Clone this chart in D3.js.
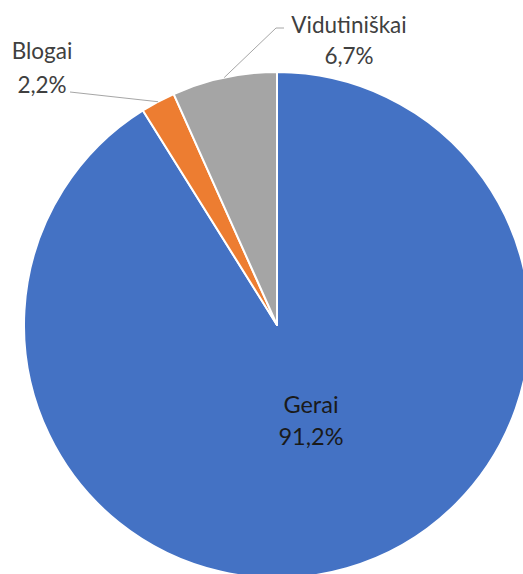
<!DOCTYPE html>
<html>
<head>
<meta charset="utf-8">
<script src="https://cdn.jsdelivr.net/npm/d3@7/dist/d3.min.js"></script>
<style>
html,body{margin:0;padding:0;background:#fff;overflow:hidden;}
svg{display:block;}
text{font-family:Lato, "Open Sans", sans-serif;}
</style>
</head>
<body>
<svg id="chart" width="523" height="574"></svg>
<script>
const categories = ["Gerai", "Blogai", "Vidutiniškai"];
const values = [91.2, 2.2, 6.7];
const valueLabels = ["91,2%", "2,2%", "6,7%"];
const colors = ["#4472C4", "#ED7D31", "#A5A5A5"];

const svg = d3.select("#chart");
const cx = 277, cy = 325, r = 253;
const g = svg.append("g").attr("transform", `translate(${cx},${cy})`);

const pie = d3.pie().sort(null).value(d => d.v)
  .startAngle(0).endAngle(2 * Math.PI);
const data = categories.map((c, i) => ({c, v: values[i], lab: valueLabels[i], col: colors[i]}));
const arcs = pie(data);
const arc = d3.arc().innerRadius(0).outerRadius(r);

g.selectAll("path.slice").data(arcs).enter().append("path")
  .attr("class", "slice")
  .attr("d", arc)
  .attr("fill", d => d.data.col)
  .attr("stroke", "#fff")
  .attr("stroke-width", 2)
  .attr("stroke-linejoin", "round");

// label placement (layout positions, absolute)
const labelPos = {
  "Gerai": {x: 311, y1: 413, y2: 445, inside: true, fs: 23.5},
  "Blogai": {x: 42, y1: 59, y2: 93, lx: 70, ly: 92, fs: 22.5},
  "Vidutiniškai": {x: 349, y1: 33, y2: 64, lx: 284, ly: 28, hx: 276, fs: 22.5}
};

arcs.forEach(d => {
  const p = labelPos[d.data.c];
  const fill = p.inside ? "#1a1a1a" : "#404040";
  if (!p.inside) {
    const mid = (d.startAngle + d.endAngle) / 2;
    const ex = cx + r * Math.sin(mid), ey = cy - r * Math.cos(mid);
    const pts = [[p.lx, p.ly]];
    if (p.hx !== undefined) pts.push([p.hx, p.ly]);
    pts.push([ex, ey]);
    svg.append("path")
      .attr("d", d3.line()(pts))
      .attr("fill", "none")
      .attr("stroke", "#A6A6A6")
      .attr("stroke-width", 1);
  }
  svg.append("text").attr("x", p.x).attr("y", p.y1)
    .attr("text-anchor", "middle").attr("font-size", p.fs).attr("fill", fill)
    .text(d.data.c);
  svg.append("text").attr("x", p.x).attr("y", p.y2)
    .attr("text-anchor", "middle").attr("font-size", p.fs).attr("fill", fill)
    .text(d.data.lab);
});
</script>
</body>
</html>
